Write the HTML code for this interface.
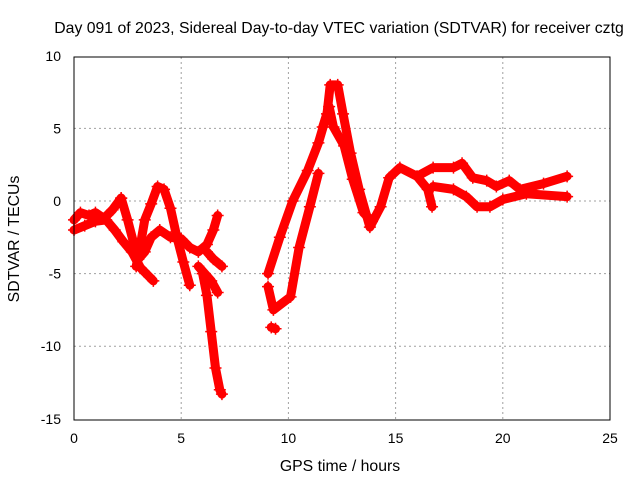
<!DOCTYPE html>
<html><head><meta charset="utf-8"><style>
body{margin:0;background:#fff;}
svg{display:block;font-family:"Liberation Sans",sans-serif;}
</style></head><body>
<svg id="chart" width="640" height="480" viewBox="0 0 640 480">
<text x="339" y="33" font-size="15.8" text-anchor="middle">Day 091 of 2023, Sidereal Day-to-day VTEC variation (SDTVAR) for receiver cztg</text>
<text x="340" y="471" font-size="15.8" text-anchor="middle">GPS time / hours</text>
<text x="19" y="239" font-size="15.8" text-anchor="middle" transform="rotate(-90 19 239)">SDTVAR / TECUs</text>
<g id="grid"></g>
<g id="ticks"></g>
<g id="series"></g>
<rect x="74" y="57" width="536" height="363" fill="none" stroke="#000" stroke-width="1"/>
</svg>
<script>
const xTicks=[0,5,10,15,20,25];
const yTicks=[10,5,0,-5,-10,-15];
const t1=[[0,-1.3],[0.3,-0.8],[0.7,-1.0],[1.0,-0.8],[1.4,-1.2],[1.8,-0.6],[2.2,0.2]];
const t2=[[0,-2.0],[0.5,-1.7],[1.0,-1.4],[1.5,-1.3],[1.9,-2.0],[2.3,-2.8],[2.7,-3.5],[3.1,-4.6],[3.5,-5.2],[3.7,-5.5]];
const t3=[[2.2,0.2],[2.5,-1.3],[2.8,-3.0],[3.0,-4.0],[3.3,-3.5],[3.6,-2.5],[4.0,-2.0],[4.5,-2.5],[5.0,-2.6],[5.4,-3.2],[5.8,-3.5],[6.2,-3.0],[6.5,-2.0],[6.7,-1.0]];
const t4=[[2.9,-4.5],[3.1,-3.0],[3.3,-1.3],[3.6,-0.2],[3.9,1.0],[4.2,0.8],[4.5,-0.5],[4.8,-2.5],[5.1,-4.2],[5.4,-5.8]];
const t5=[[5.8,-4.5],[6.1,-5.0],[6.4,-5.5],[6.7,-6.3]];
const t6=[[6.0,-5.0],[6.2,-6.5],[6.4,-9.0],[6.6,-11.5],[6.8,-13.0],[6.9,-13.3]];
const t7=[[6.2,-3.5],[6.5,-4.0],[6.9,-4.5]];
const r1=[[9.05,-5.0],[9.6,-2.5],[10.2,0],[10.9,2.1],[11.4,4.0],[11.8,6.0],[11.95,8.0],[12.3,8.0],[12.55,6.0],[12.9,3.3],[13.3,0.8],[13.8,-1.8],[14.3,-0.4],[14.7,1.6],[15.2,2.3],[16.0,1.7],[16.5,0.8],[16.7,-0.4]];
const r2=[[9.05,-5.9],[9.3,-7.5],[10.1,-6.6],[10.5,-3.2],[11.0,-0.4],[11.4,1.9]];
const r3=[[11.6,5.1],[11.9,6.5],[12.1,5.1],[12.6,3.8],[13.0,1.5],[13.5,-0.8],[13.9,-1.4]];
const r4=[[16.0,1.7],[16.75,2.3],[17.7,2.3],[18.1,2.6],[18.6,1.6],[19.25,1.4],[19.7,1.0],[20.3,1.4],[20.8,0.8],[21.9,1.2],[23.0,1.7]];
const r5=[[16.75,1.0],[17.7,0.8],[18.3,0.3],[18.8,-0.4],[19.4,-0.4],[20.0,0.1],[21.1,0.5],[23.0,0.3]];
const dots=[[9.2,-8.7],[9.4,-8.8]];
const allSeries=[t1,t2,t3,t4,t5,t6,t7,r1,r2,r3,r4,r5,dots];

const X=h=>74+h*536/25;
const Y=v=>201-v*363/25;
const NS="http://www.w3.org/2000/svg";
const grid=document.getElementById('grid'),ticks=document.getElementById('ticks'),ser=document.getElementById('series');
function mk(tag,attrs,parent){const e=document.createElementNS(NS,tag);for(const k in attrs)e.setAttribute(k,attrs[k]);parent.appendChild(e);return e;}
xTicks.forEach(t=>{
  const x=X(t);
  if(t>0&&t<25){const g=mk('line',{x1:x,y1:57,x2:x,y2:420,stroke:'#a0a0a0','stroke-dasharray':'2,3'},grid);
  
  }
  const l=mk('text',{x:x,y:443,'font-size':14,'text-anchor':'middle'},ticks);l.textContent=t;
  
  
});
yTicks.forEach(t=>{
  const y=Y(t);
  if(t>-15&&t<10){const g=mk('line',{x1:74,y1:y,x2:610,y2:y,stroke:'#a0a0a0','stroke-dasharray':'2,3'},grid);
  
  }
  const l=mk('text',{x:61,y:y+5,'font-size':14,'text-anchor':'end'},ticks);l.textContent=t;
  
  
});
allSeries.forEach((s,i)=>{
  const pts=s.map(p=>X(p[0])+','+Y(p[1])).join(' ');
  const pl=mk('polyline',{points:pts,fill:'none',stroke:'#ff0000','stroke-width':9,'stroke-linejoin':'round','stroke-linecap':'round'},ser);
  
  
  s.forEach(p=>{
    const x=X(p[0]),y=Y(p[1]);
    const m=mk('path',{d:`M${x-6},${y}H${x+6}M${x},${y-6}V${y+6}`,stroke:'#ff0000','stroke-width':1.5},ser);
    
    
  });
});
</script>
</body></html>
